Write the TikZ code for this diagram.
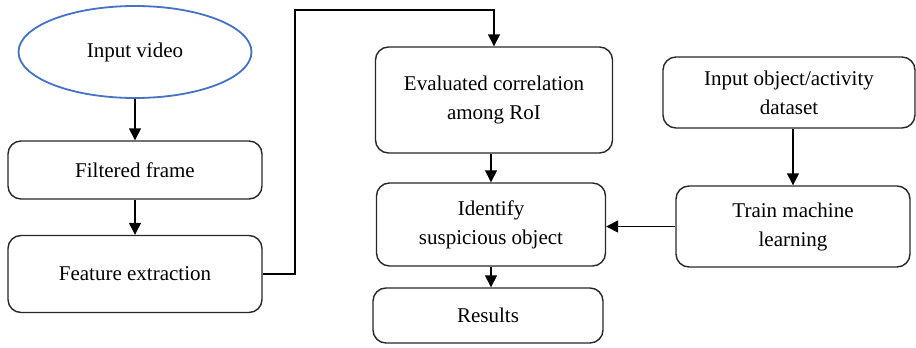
\documentclass[tikz,border=0pt]{standalone}
\usepackage{fontspec}
\setmainfont{Liberation Serif}
\usetikzlibrary{shapes.geometric,arrows.meta}
\definecolor{ovalblue}{RGB}{68,114,196}
\definecolor{inkgray}{RGB}{40,40,40}
\tikzset{
  stepbox/.style={draw=inkgray, line width=1.4pt, rounded corners=13pt, align=center,
    inner sep=0pt, font=\fontsize{21}{29}\selectfont, text=black},
  flow/.style={draw=black, line width=1.4pt, -{Triangle[width=12pt,length=12pt]}},
}
\begin{document}
\begin{tikzpicture}[x=1pt,y=-1pt]
\useasboundingbox (0,0) rectangle (916,348);

% start of the pipeline
\node[ellipse, draw=ovalblue, line width=1.8pt, minimum width=233pt, minimum height=92pt,
  inner sep=0pt, font=\fontsize{21}{29}\selectfont] (video) at (135,52) {Input video};

% left column
\node[stepbox, minimum width=254pt, minimum height=58pt] (filt) at (135,170) {Filtered frame};
\node[stepbox, minimum width=254pt, minimum height=77pt] (feat) at (135,274) {Feature extraction};

% middle column
\node[stepbox, minimum width=237pt, minimum height=106pt] (eval) at (494,100)
  {Evaluated correlation\\among RoI};
\node[stepbox, minimum width=229pt, minimum height=83pt] (ident) at (491,224.5)
  {Identify\\suspicious object};
\node[stepbox, minimum width=230pt, minimum height=55pt] (res) at (488,315.5) {Results};

% right column
\node[stepbox, minimum width=252pt, minimum height=71pt] (data) at (789,92.5)
  {Input object/activity\\dataset};
\node[stepbox, minimum width=234pt, minimum height=81pt] (train) at (793,226.5)
  {Train machine\\learning};

% routing point of the long connector
\coordinate (top) at (295,10);

% connectors
\draw[flow] (video.south) -- (filt.north);
\draw[flow] (filt.south) -- (feat.north);
\draw[flow] (feat.east) -| (top) -| (eval.north);
\draw[flow] (eval.south -| ident.north) -- (ident.north);
\draw[flow] (ident.south) -- (res.north -| ident.south);
\draw[flow] (data.south -| train.north) -- (train.north);
\draw[flow] (train.west) -- (ident.east |- train.west);
\end{tikzpicture}
\end{document}
